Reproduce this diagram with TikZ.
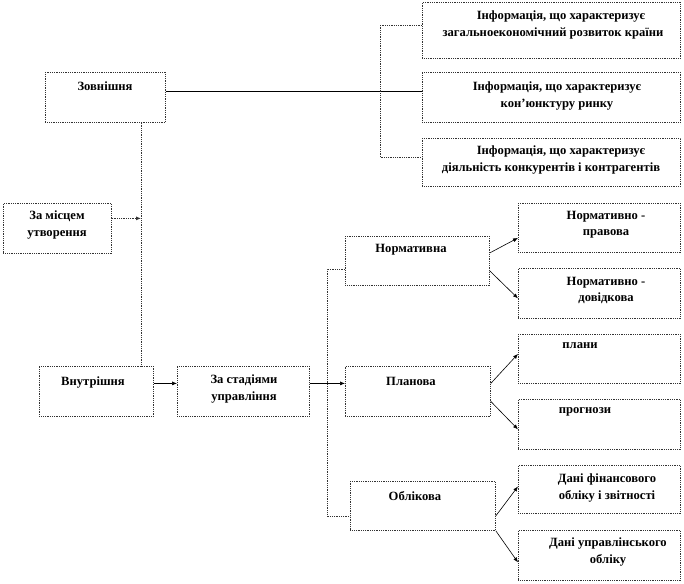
\documentclass[tikz,border=0pt]{standalone}
\usepackage{fontspec}
\setmainfont{Liberation Serif}
\usetikzlibrary{arrows.meta}
\begin{document}
\begin{tikzpicture}[x=1pt,y=-1pt,
  box/.style={draw=black!80, densely dotted, line width=0.8pt, inner sep=0pt, anchor=north west},
  txt/.style={font=\fontsize{12.6}{16.5}\selectfont\bfseries, align=center, anchor=north, inner sep=0pt},
  dline/.style={draw=black!80, densely dotted, line width=0.8pt},
  sline/.style={draw=black, line width=0.6pt},
  arr/.style={draw=black, line width=0.6pt, -{Latex[length=5pt,width=4pt]}}]
\useasboundingbox (0,0) rectangle (684,583);
% boxes
\node[box, minimum width=120, minimum height=50] (zovn) at (45,72) {};
\node[box, minimum width=258, minimum height=56] (info1) at (422,2) {};
\node[box, minimum width=258, minimum height=50] (info2) at (422,72) {};
\node[box, minimum width=258, minimum height=48] (info3) at (422,138) {};
\node[box, minimum width=108, minimum height=50] (misce) at (3,203) {};
\node[box, minimum width=114, minimum height=50] (vnutr) at (39,366) {};
\node[box, minimum width=132, minimum height=50] (stad) at (177,366) {};
\node[box, minimum width=144, minimum height=49] (norm) at (345,236) {};
\node[box, minimum width=145, minimum height=50] (plan) at (345,366) {};
\node[box, minimum width=145, minimum height=49] (obl) at (350,481) {};
\node[box, minimum width=162, minimum height=49] (np) at (518,203) {};
\node[box, minimum width=162, minimum height=50] (nd) at (518,268) {};
\node[box, minimum width=162, minimum height=49] (plany) at (518,334) {};
\node[box, minimum width=162, minimum height=50] (progn) at (518,399) {};
\node[box, minimum width=162, minimum height=48] (fin) at (518,465) {};
\node[box, minimum width=162, minimum height=50] (upr) at (518,530) {};
% texts
\node[txt] (zovnT) at (105,82) {Зовнішня};
\node[txt] (info1T) at (553,11) {\hspace*{16pt}Інформація, що характеризує\\загальноекономічний розвиток країни};
\node[txt] (info2T) at (557,82) {Інформація, що характеризує\\кон’юнктуру ринку};
\node[txt] (info3T) at (551,146) {\hspace*{20pt}Інформація, що характеризує\\діяльність  конкурентів і контрагентів};
\node[txt] (misceT) at (57,211) {За місцем\\утворення};
\node[txt] (vnutrT) at (93,377) {Внутрішня};
\node[txt] (stadT) at (244,375) {За стадіями\\управління};
\node[txt] (normT) at (411,244) {Нормативна};
\node[txt] (planT) at (411,377) {Планова};
\node[txt] (oblT) at (415,491) {Облікова};
\node[txt] (npT) at (606,211) {Нормативно -\\правова};
\node[txt] (ndT) at (606,277) {Нормативно -\\довідкова};
\node[txt] (planyT) at (580,342) {плани};
\node[txt] (prognT) at (585,407) {прогнози};
\node[txt] (finT) at (607,474) {Дані фінансового\\обліку і звітності};
\node[txt] (uprT) at (608,538) {Дані управлінського\\обліку};
% helper coordinates
\coordinate (brx) at (380,0);
\coordinate (vx) at (141,0);
\coordinate (sx) at (327,0);
% connectors
\draw[sline] ([yshift=6]zovn.east) -- ([yshift=6]zovn.east -| info2.west);
\draw[dline] ([yshift=5]info1.west) -- ([yshift=5]info1.west -| brx) -- ([yshift=5]info3.west -| brx) -- ([yshift=5]info3.west);
\draw[dline] (zovn.south -| vx) -- (vnutr.north -| vx);
\draw[dline, -{Latex[length=5pt,width=4pt]}] ([yshift=10]misce.east) -- ([yshift=10]misce.east -| vx);
\draw[arr] ([yshift=8]vnutr.east) -- ([yshift=8]stad.west);
\draw[arr] ([yshift=8]stad.east) -- ([yshift=8]plan.west);
\draw[dline] ([yshift=-8]norm.west) -- ([yshift=-8]norm.west -| sx) -- ([yshift=-10]obl.west -| sx) -- ([yshift=-10]obl.west);
\draw[arr] ([yshift=8]norm.east) -- ([yshift=-10]np.west);
\draw[arr] ([yshift=-10]norm.east) -- ([yshift=-5]nd.west);
\draw[arr] ([yshift=8]plan.east) -- ([yshift=5]plany.west);
\draw[arr] ([yshift=-10]plan.east) -- ([yshift=-5]progn.west);
\draw[arr] ([yshift=-10]obl.east) -- ([yshift=3]fin.west);
\draw[arr] (obl.south east) -- ([yshift=-7]upr.west);
\end{tikzpicture}
\end{document}
